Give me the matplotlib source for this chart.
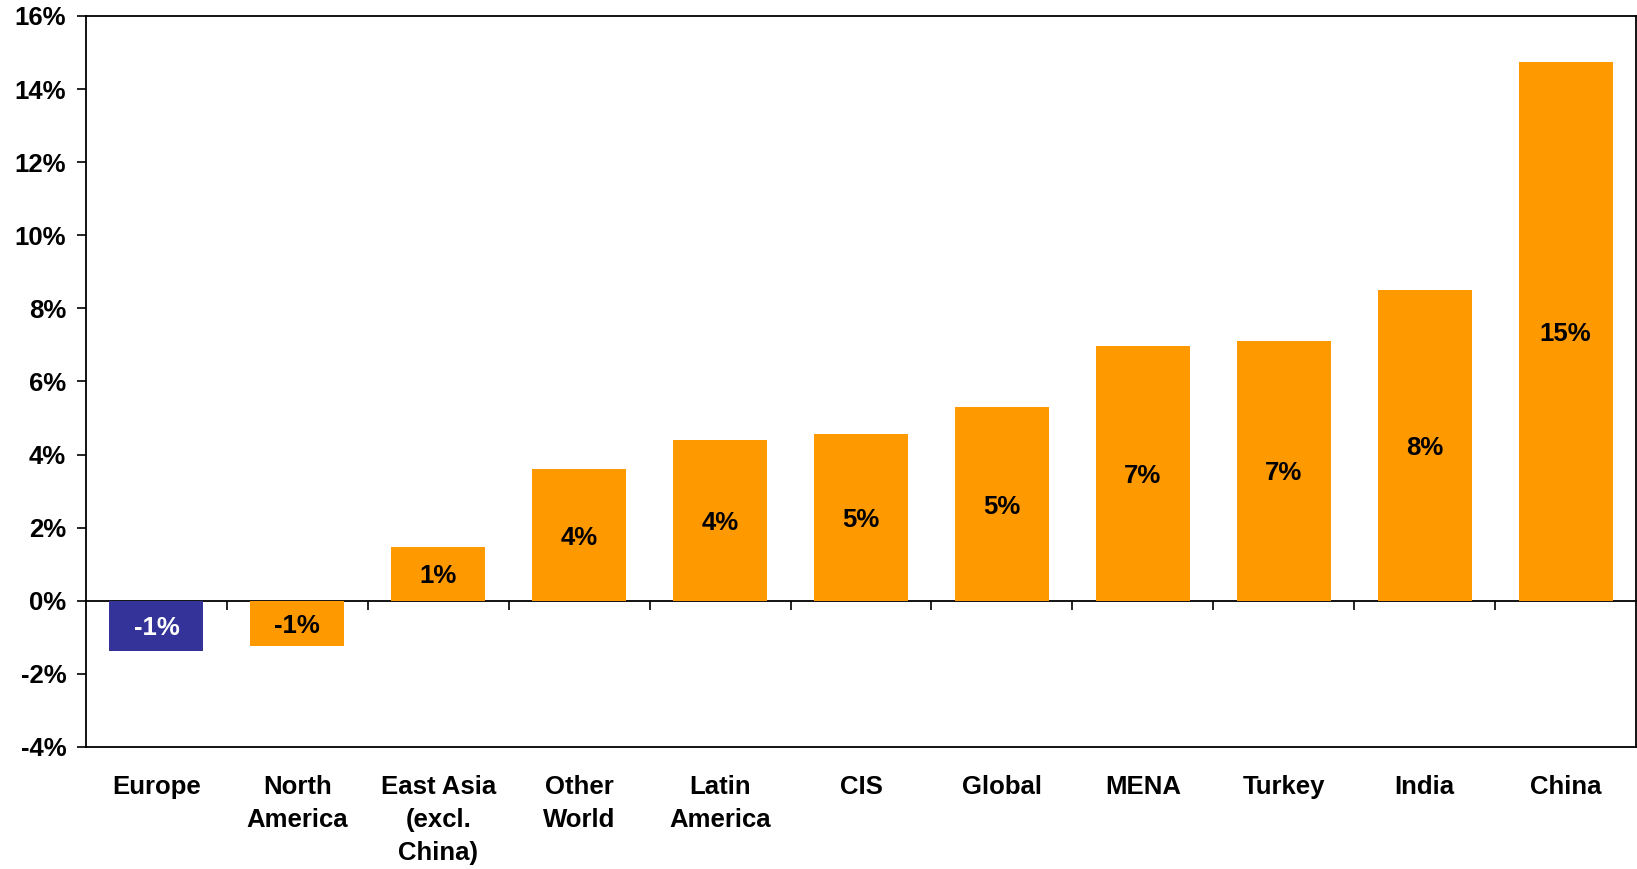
import matplotlib
matplotlib.use('Agg')
import matplotlib.pyplot as plt
import numpy as np

plt.rcParams['font.family'] = ['Liberation Sans', 'DejaVu Sans']
plt.rcParams['font.weight'] = 'bold'

# Data
regions = ['Europe', 'North\nAmerica', 'East Asia\n(excl.\nChina)', 'Other\nWorld', 'Latin\nAmerica',
           'CIS', 'Global', 'MENA', 'Turkey', 'India', 'China']
growth = [-1.37, -1.23, 1.48, 3.6, 4.4, 4.57, 5.29, 6.97, 7.11, 8.49, 14.74]
bar_colors = ['#333399'] + ['#FF9900'] * 10
label_colors = ['white'] + ['black'] * 10

fig = plt.figure(figsize=(16.37, 8.69), dpi=100)
ax = fig.add_axes([86 / 1637, 1 - 747 / 869, 1550 / 1637, 731 / 869])

x = np.arange(len(regions))
bars = ax.bar(x, growth, width=0.667, color=bar_colors, zorder=2)

# value labels in the middle of each bar
for bar, val, c in zip(bars, growth, label_colors):
    ax.text(bar.get_x() + bar.get_width() / 2, val / 2, '{:.0f}%'.format(round(val)),
            ha='center', va='center_baseline', fontsize=18.5, fontweight='bold', color=c, zorder=3)

ax.set_xlim(-0.5, len(regions) - 0.5)
ax.set_ylim(-4, 16)
ax.set_yticks(np.arange(-4, 17, 2))
ax.set_yticklabels(['{}%'.format(v) for v in range(-4, 17, 2)])
ax.tick_params(axis='y', length=6.3, width=1.2, labelsize=18.5, pad=8)

ax.set_xticks(x)
ax.set_xticklabels(regions, fontsize=18.5, fontweight='bold', linespacing=1.47)
ax.tick_params(axis='x', length=0, pad=20)
for lbl in ax.get_xticklabels():
    lbl.set_verticalalignment('top')

for s in ax.spines.values():
    s.set_linewidth(1.3)

# zero line with category separator ticks
zero_axis = ax.secondary_xaxis(4 / 20)
zero_axis.set_xticks(x[:-1] + 0.5)
zero_axis.set_xticklabels([])
zero_axis.tick_params(axis='x', direction='out', length=6.3, width=1.2)
zero_axis.spines['bottom'].set_linewidth(1.3)

fig.savefig('out.png', dpi=100)
